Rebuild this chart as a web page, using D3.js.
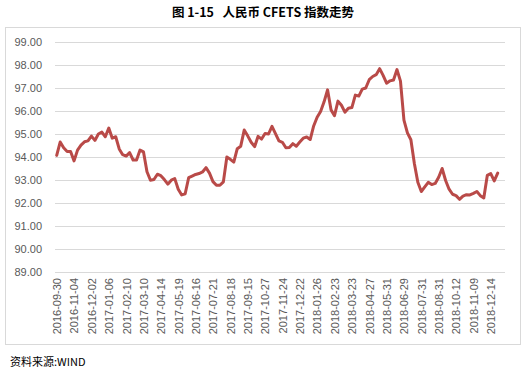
<!DOCTYPE html>
<html><head><meta charset="utf-8">
<script src="https://d3js.org/d3.v7.min.js"></script>
<style>body{margin:0;background:#fff;}svg{display:block;}</style>
</head><body>
<script>
const title = "图 1-15   人民币 CFETS 指数走势";
const source = "资料来源:WIND";
const tickLabels = ["2016-09-30","2016-11-04","2016-12-02","2017-01-06","2017-02-10","2017-03-10","2017-04-14","2017-05-19","2017-06-16","2017-07-21","2017-08-18","2017-09-15","2017-10-27","2017-11-24","2017-12-22","2018-01-26","2018-02-23","2018-03-23","2018-04-27","2018-05-31","2018-06-29","2018-07-31","2018-08-31","2018-10-12","2018-11-09","2018-12-14"];
const labelEvery = 5;
const yTicks = [89,90,91,92,93,94,95,96,97,98,99];
const values = [
 94.07,94.65,94.40,94.24,94.24,93.83,94.30,94.52,94.66,94.70,
 94.91,94.72,95.00,95.08,94.88,95.26,94.82,94.88,94.35,94.10,
 94.04,94.19,93.87,93.87,94.30,94.22,93.36,92.99,93.02,93.25,
 93.19,93.02,92.82,92.99,93.06,92.60,92.35,92.40,93.10,93.17,
 93.24,93.28,93.35,93.54,93.30,92.93,92.77,92.77,92.92,94.00,
 93.90,93.78,94.36,94.47,95.17,94.92,94.64,94.45,94.90,94.78,
 95.02,95.00,95.33,95.02,94.70,94.64,94.40,94.41,94.58,94.47,
 94.65,94.82,94.87,94.76,95.35,95.73,95.98,96.40,96.92,96.05,
 95.80,96.43,96.25,95.95,96.12,96.15,96.69,96.65,96.95,97.00,
 97.36,97.50,97.58,97.84,97.55,97.21,97.31,97.35,97.80,97.30,
 95.60,95.05,94.75,93.72,92.90,92.50,92.70,92.90,92.80,92.85,
 93.12,93.50,92.98,92.60,92.38,92.32,92.16,92.30,92.36,92.35,
 92.42,92.50,92.32,92.22,93.20,93.28,92.96,93.30
];
</script>
<script>
const W = 526, H = 373;
const svg = d3.select("body").append("svg").attr("width", W).attr("height", H);

svg.append("text").attr("x", 263).attr("y", 17).attr("text-anchor", "middle")
  .attr("font-family", "'Noto Sans CJK SC', sans-serif").attr("font-weight", "bold")
  .attr("font-size", 12.5).attr("fill", "#000").style("white-space","pre").text(title);

svg.append("rect").attr("x", 5.5).attr("y", 27.5).attr("width", 515).attr("height", 317)
  .attr("fill", "none").attr("stroke", "#d9d9d9").attr("stroke-width", 1);

const idx = d3.range(values.length);
const x = d3.scalePoint().domain(idx).range([56.7, 497.7]);
const y = d3.scaleLinear().domain([89, 99]).range([272, 42]);

const gridG = svg.append("g");
yTicks.forEach(t => {
  gridG.append("line").attr("x1", 55).attr("x2", 505)
    .attr("y1", Math.round(y(t)) + 0.5).attr("y2", Math.round(y(t)) + 0.5)
    .attr("stroke", "#d9d9d9").attr("stroke-width", 1);
});

const yAxis = d3.axisLeft(y).tickValues(yTicks).tickFormat(d3.format(".2f")).tickSize(0).tickPadding(0);
const yg = svg.append("g").attr("transform", "translate(42,0)").call(yAxis);
yg.select(".domain").remove();
yg.selectAll("text").attr("font-family", "'Liberation Sans', Arial, sans-serif").attr("font-size", 11).attr("fill", "#595959");

const labelIdx = idx.filter(i => i % labelEvery === 0).slice(0, tickLabels.length);
const labelMap = new Map(labelIdx.map((i, k) => [i, tickLabels[k]]));
const xAxis = d3.axisBottom(x).tickValues(labelIdx).tickFormat(i => labelMap.get(i)).tickSize(0).tickPadding(0);
const xg = svg.append("g").attr("transform", "translate(0,278)").call(xAxis);
xg.select(".domain").remove();
xg.selectAll("text").attr("transform", "rotate(-90)").attr("text-anchor", "end")
  .attr("x", 0).attr("y", 0).attr("dx", 0).attr("dy", "0.35em")
  .attr("font-family", "'Liberation Sans', Arial, sans-serif").attr("font-size", 11).attr("fill", "#595959");

const line = d3.line().x((d, i) => x(i)).y(d => y(d)).curve(d3.curveLinear);
svg.append("path").datum(values).attr("d", line).attr("fill", "none")
  .attr("stroke", "#b94a48").attr("stroke-width", 3).attr("stroke-linejoin", "round").attr("stroke-linecap", "round");

svg.append("text").attr("x", 10).attr("y", 366)
  .attr("font-family", "'Noto Sans CJK SC', sans-serif").attr("font-size", 11).attr("fill", "#000").text(source);
</script>
</body></html>
